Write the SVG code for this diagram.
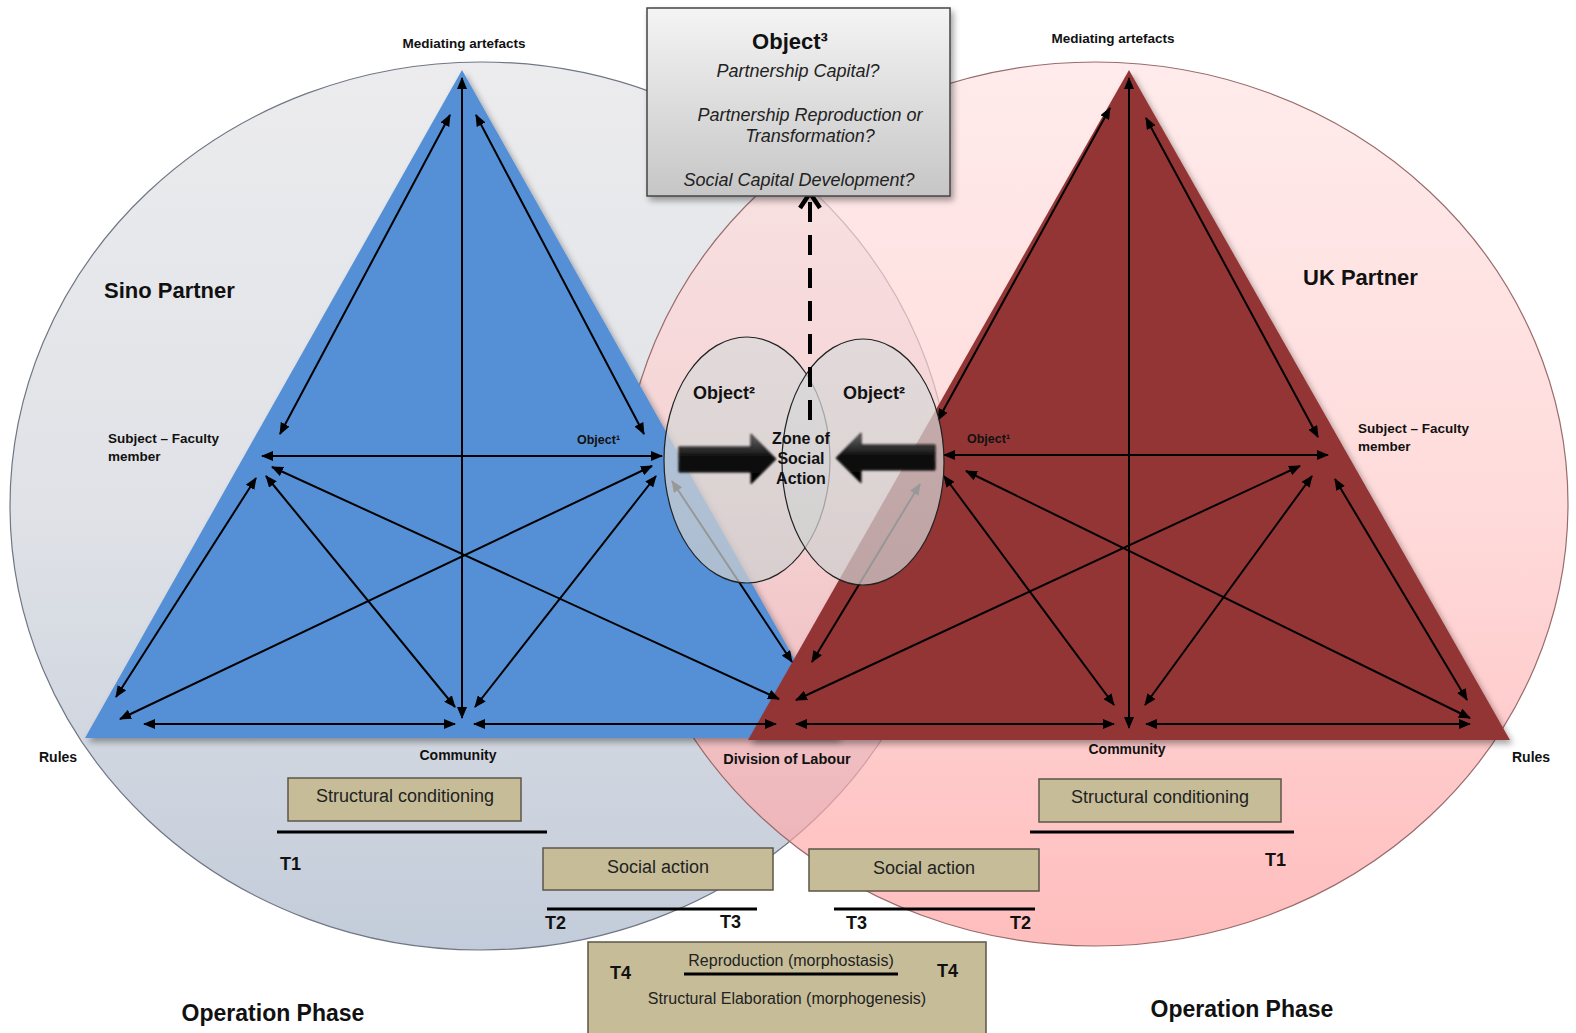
<svg xmlns="http://www.w3.org/2000/svg" width="1576" height="1033" viewBox="0 0 1576 1033">
<defs>
<linearGradient id="gGrey" x1="0" y1="0" x2="0" y2="1">
<stop offset="0" stop-color="#ececee"/><stop offset="0.5" stop-color="#e0e2e7"/><stop offset="1" stop-color="#c3ccda"/>
</linearGradient>
<linearGradient id="gPink" x1="0" y1="0" x2="0" y2="1">
<stop offset="0" stop-color="#ffe2e2"/><stop offset="0.5" stop-color="#ffcaca"/><stop offset="1" stop-color="#ff9e9e"/>
</linearGradient>
<linearGradient id="gBox" x1="0" y1="0" x2="0" y2="1">
<stop offset="0" stop-color="#f4f4f4"/><stop offset="1" stop-color="#c6c6c6"/>
</linearGradient>
<linearGradient id="gSmall" x1="0" y1="0" x2="0" y2="1">
<stop offset="0" stop-color="#dadada"/><stop offset="1" stop-color="#cfcfcf"/>
</linearGradient>
<linearGradient id="gArrow" x1="0" y1="0" x2="0" y2="1">
<stop offset="0" stop-color="#6a6a6a"/><stop offset="0.45" stop-color="#111"/><stop offset="1" stop-color="#000"/>
</linearGradient>
<filter id="sh" x="-10%" y="-10%" width="130%" height="130%">
<feDropShadow dx="3" dy="4" stdDeviation="3" flood-color="#000" flood-opacity="0.35"/>
</filter>
<filter id="blurA" x="-20%" y="-20%" width="140%" height="140%">
<feGaussianBlur stdDeviation="1"/>
</filter>
<marker id="ah" viewBox="0 0 12 10" refX="11" refY="5" markerWidth="12" markerHeight="10" markerUnits="userSpaceOnUse" orient="auto-start-reverse">
<path d="M0,0 L12,5 L0,10 z" fill="#000"/>
</marker>
</defs>
<style>
.lbl{font-family:"Liberation Sans",Arial,sans-serif;font-weight:bold;fill:#111}
.reg{font-family:"Liberation Sans",Arial,sans-serif;fill:#222}
.it{font-family:"Liberation Sans",Arial,sans-serif;font-style:italic;fill:#222}
.c{stroke:#000;stroke-width:2;fill:none;marker-start:url(#ah);marker-end:url(#ah)}
.tan{fill:#c6bd98;stroke:#5c5648;stroke-width:1.5}
.tl{stroke:#000;stroke-width:3}
</style>
<rect width="1576" height="1033" fill="#fff"/>

<g id="sino-circle">
<ellipse cx="481" cy="506" rx="471" ry="444" fill="url(#gGrey)" stroke="#6f7684" stroke-width="1.2"/>
</g>
<g id="uk-circle">
<ellipse cx="1095" cy="504" rx="473" ry="442" fill="url(#gPink)" fill-opacity="0.68" stroke="#9a6b6b" stroke-width="1.2"/>
</g>

<g id="sino-triangle">
<polygon points="462,70 85,738 839,738" fill="#5590d6" filter="url(#sh)"/>
</g>
<g id="uk-triangle">
<polygon points="1129,70 748,740 1510,740" fill="#943634" filter="url(#sh)"/>
</g>

<g id="connectors">
<line class="c" x1="462" y1="78" x2="462" y2="718"/>
<line class="c" x1="450" y1="115" x2="280" y2="434"/>
<line class="c" x1="476" y1="115" x2="644" y2="434"/>
<line class="c" x1="262" y1="456" x2="662" y2="456"/>
<line class="c" x1="256" y1="478" x2="116" y2="697"/>
<line class="c" x1="266" y1="476" x2="455" y2="707"/>
<line class="c" x1="272" y1="467" x2="779" y2="699"/>
<line class="c" x1="652" y1="466" x2="120" y2="719"/>
<line class="c" x1="656" y1="476" x2="475" y2="707"/>
<line class="c" x1="672" y1="481" x2="792" y2="662"/>
<line class="c" x1="144" y1="724" x2="455" y2="724"/>
<line class="c" x1="474" y1="724" x2="776" y2="724"/>
<line class="c" x1="1129" y1="78" x2="1129" y2="728"/>
<line class="c" x1="1110" y1="108" x2="938" y2="420"/>
<line class="c" x1="1146" y1="118" x2="1318" y2="437"/>
<line class="c" x1="944" y1="455" x2="1328" y2="455"/>
<line class="c" x1="920" y1="484" x2="812" y2="662"/>
<line class="c" x1="944" y1="476" x2="1114" y2="705"/>
<line class="c" x1="966" y1="471" x2="1470" y2="718"/>
<line class="c" x1="1300" y1="466" x2="796" y2="700"/>
<line class="c" x1="1312" y1="476" x2="1145" y2="705"/>
<line class="c" x1="1335" y1="479" x2="1467" y2="700"/>
<line class="c" x1="796" y1="724" x2="1114" y2="724"/>
<line class="c" x1="1146" y1="724" x2="1470" y2="724"/>
</g>

<g id="object2-left">
<ellipse cx="747" cy="460" rx="83" ry="123" fill="url(#gSmall)" fill-opacity="0.72" stroke="#222" stroke-width="1.2"/>
<text class="lbl" x="724" y="399" font-size="18" text-anchor="middle">Object²</text>
</g>
<g id="object2-right">
<ellipse cx="863" cy="462" rx="81" ry="123" fill="url(#gSmall)" fill-opacity="0.72" stroke="#222" stroke-width="1.2"/>
<text class="lbl" x="874" y="399" font-size="18" text-anchor="middle">Object²</text>
</g>

<g id="zone-arrows">
<polygon points="679,447 751,447 751,434 776,459 751,484 751,472 679,472" fill="url(#gArrow)" stroke="#000" stroke-width="1" filter="url(#blurA)"/>
<polygon points="935,445 861,445 861,433 836,458 861,483 861,470 935,470" fill="url(#gArrow)" stroke="#000" stroke-width="1" filter="url(#blurA)"/>
</g>

<g id="zone-label">
<text class="lbl" x="801" y="444" font-size="16" text-anchor="middle">Zone of</text>
<text class="lbl" x="801" y="464" font-size="16" text-anchor="middle">Social</text>
<text class="lbl" x="801" y="484" font-size="16" text-anchor="middle">Action</text>
</g>

<g id="object3-link">
<line x1="810" y1="420" x2="810" y2="200" stroke="#000" stroke-width="4" stroke-dasharray="20,13"/>
<polyline points="800,208 810,193 820,208" fill="none" stroke="#000" stroke-width="4.5"/>
</g>

<g id="object3">
<rect x="647" y="8" width="303" height="188" fill="url(#gBox)" stroke="#444" stroke-width="1.5" filter="url(#sh)"/>
<text class="lbl" x="790" y="49" font-size="22" text-anchor="middle">Object³</text>
<text class="it" x="798" y="77" font-size="18" text-anchor="middle">Partnership Capital?</text>
<text class="it" x="810" y="121" font-size="18" text-anchor="middle">Partnership Reproduction or</text>
<text class="it" x="810" y="142" font-size="18" text-anchor="middle">Transformation?</text>
<text class="it" x="799" y="186" font-size="18" text-anchor="middle">Social Capital Development?</text>
</g>

<g id="labels-sino">
<text class="lbl" x="464" y="48" font-size="13.5" text-anchor="middle">Mediating artefacts</text>
<text class="lbl" x="104" y="298" font-size="22">Sino Partner</text>
<text class="lbl" x="108" y="443" font-size="13.5">Subject – Faculty</text>
<text class="lbl" x="108" y="461" font-size="13.5">member</text>
<text class="lbl" x="577" y="444" font-size="12.5">Object¹</text>
<text class="lbl" x="39" y="762" font-size="14">Rules</text>
<text class="lbl" x="458" y="760" font-size="14" text-anchor="middle">Community</text>
<text class="lbl" x="787" y="764" font-size="14.5" text-anchor="middle">Division of Labour</text>
</g>
<g id="labels-uk">
<text class="lbl" x="1113" y="43" font-size="13.5" text-anchor="middle">Mediating artefacts</text>
<text class="lbl" x="1303" y="285" font-size="22">UK Partner</text>
<text class="lbl" x="1358" y="433" font-size="13.5">Subject – Faculty</text>
<text class="lbl" x="1358" y="451" font-size="13.5">member</text>
<text class="lbl" x="967" y="443" font-size="12.5">Object¹</text>
<text class="lbl" x="1512" y="762" font-size="14">Rules</text>
<text class="lbl" x="1127" y="754" font-size="14" text-anchor="middle">Community</text>
</g>

<g id="structural-left">
<rect class="tan" x="288" y="778" width="233" height="43"/>
<text class="reg" x="405" y="802" font-size="18" text-anchor="middle">Structural conditioning</text>
<line class="tl" x1="277" y1="832" x2="547" y2="832"/>
<text class="lbl" x="280" y="870" font-size="18">T1</text>
</g>
<g id="structural-right">
<rect class="tan" x="1039" y="779" width="242" height="43"/>
<text class="reg" x="1160" y="803" font-size="18" text-anchor="middle">Structural conditioning</text>
<line class="tl" x1="1030" y1="832" x2="1294" y2="832"/>
<text class="lbl" x="1265" y="866" font-size="18">T1</text>
</g>
<g id="social-left">
<rect class="tan" x="543" y="848" width="230" height="42"/>
<text class="reg" x="658" y="873" font-size="18" text-anchor="middle">Social action</text>
<line class="tl" x1="547" y1="909" x2="757" y2="909"/>
<text class="lbl" x="545" y="929" font-size="18">T2</text>
<text class="lbl" x="720" y="928" font-size="18">T3</text>
</g>
<g id="social-right">
<rect class="tan" x="809" y="849" width="230" height="42"/>
<text class="reg" x="924" y="874" font-size="18" text-anchor="middle">Social action</text>
<line class="tl" x1="834" y1="909" x2="1035" y2="909"/>
<text class="lbl" x="846" y="929" font-size="18">T3</text>
<text class="lbl" x="1010" y="929" font-size="18">T2</text>
</g>
<g id="outcome">
<rect class="tan" x="588" y="942" width="398" height="95"/>
<text class="lbl" x="610" y="979" font-size="18">T4</text>
<text class="lbl" x="937" y="977" font-size="18">T4</text>
<text class="reg" x="791" y="966" font-size="16" text-anchor="middle">Reproduction (morphostasis)</text>
<line class="tl" x1="684" y1="974" x2="898" y2="974"/>
<text class="reg" x="787" y="1004" font-size="16" text-anchor="middle">Structural Elaboration (morphogenesis)</text>
</g>
<g id="phase-labels">
<text class="lbl" x="273" y="1021" font-size="23" text-anchor="middle">Operation Phase</text>
<text class="lbl" x="1242" y="1017" font-size="23" text-anchor="middle">Operation Phase</text>
</g>
</svg>
